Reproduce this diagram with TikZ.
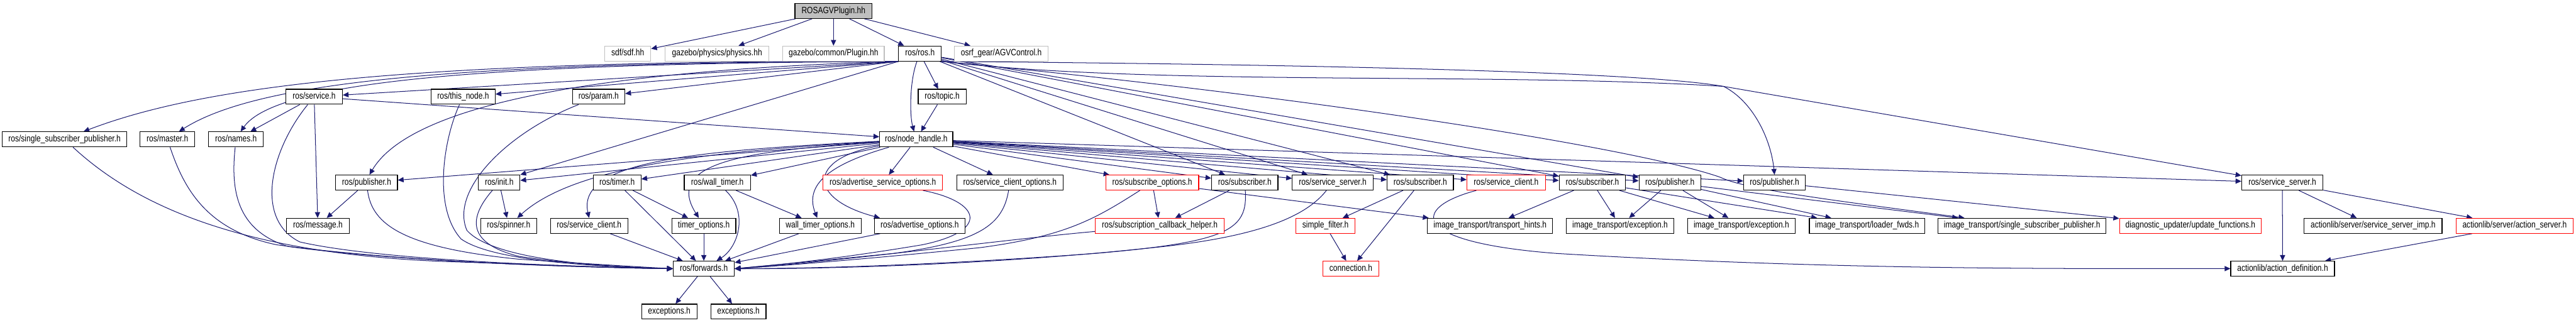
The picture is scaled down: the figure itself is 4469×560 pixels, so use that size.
\documentclass[tikz,border=0pt]{standalone}
\usepackage{fontspec}
\newfontfamily\dfont[FakeStretch=0.82]{Liberation Sans}
\usetikzlibrary{arrows.meta}
\definecolor{edgeblue}{HTML}{191970}
\definecolor{lgray}{HTML}{BFBFBF}
\pgfdeclarelayer{bg}
\pgfdeclarelayer{edges}
\pgfsetlayers{bg,edges,main}
\begin{document}
\begin{tikzpicture}[x=1pt,y=-1pt,
  box/.style={draw=black,line width=1.3pt,fill=white,minimum height=26pt,inner sep=0pt,
    text height=11pt,text depth=3pt,font=\dfont\fontsize{16}{18}\selectfont},
  rbox/.style={box,draw=red},
  gbox/.style={box,draw=lgray},
  rootbox/.style={box,fill=lgray},
  bw/.style={minimum width=#1},
  e/.style={draw=edgeblue,line width=1.1pt,-{Triangle[length=10pt,width=9pt]}}]
\begin{pgfonlayer}{bg}
\fill[white] (0,0) rectangle (4469,560);
\end{pgfonlayer}
\useasboundingbox (0,0) rectangle (4469,560);
% row 0
\node[rootbox,bw=134pt] (root) at (1446,19) {ROSAGVPlugin.hh};
% row 1
\node[gbox,bw=80pt] (sdf) at (1089,93) {sdf/sdf.hh};
\node[gbox,bw=180pt] (physics) at (1244,93) {gazebo/physics/physics.hh};
\node[gbox,bw=176pt] (plugin) at (1446,93) {gazebo/common/Plugin.hh};
\node[box,bw=74pt] (ros) at (1596,93) {ros/ros.h};
\node[gbox,bw=162pt] (agv) at (1737,93) {osrf\_gear/AGVControl.h};
% row 2
\node[box,bw=98pt] (service) at (545,168) {ros/service.h};
\node[box,bw=111pt] (thisnode) at (803.5,168) {ros/this\_node.h};
\node[box,bw=91pt] (param) at (1038.5,168) {ros/param.h};
\node[box,bw=83pt] (topic) at (1634.5,168) {ros/topic.h};
% row 3
\node[box,bw=216pt] (ssp) at (112,242) {ros/single\_subscriber\_publisher.h};
\node[box,bw=95pt] (master) at (290.5,242) {ros/master.h};
\node[box,bw=95pt] (names) at (409.5,242) {ros/names.h};
\node[box,bw=127pt] (nh) at (1589.5,242) {ros/node\_handle.h};
% row 4
\node[box,bw=107pt] (pubA) at (636,317) {ros/publisher.h};
\node[box,bw=72pt] (init) at (866,317) {ros/init.h};
\node[box,bw=83pt] (timer) at (1070.5,317) {ros/timer.h};
\node[box,bw=115pt] (walltimer) at (1244.5,317) {ros/wall\_timer.h};
\node[rbox,bw=207pt] (advsrvopt) at (1531.5,317) {ros/advertise\_service\_options.h};
\node[box,bw=184pt] (srvcliopt) at (1752,317) {ros/service\_client\_options.h};
\node[rbox,bw=161pt] (subopt) at (1999,317) {ros/subscribe\_options.h};
\node[box,bw=115pt] (subA) at (2159.5,317) {ros/subscriber.h};
\node[box,bw=140pt] (srvA) at (2312,317) {ros/service\_server.h};
\node[box,bw=115pt] (subB) at (2464,317) {ros/subscriber.h};
\node[rbox,bw=136pt] (srvcliR) at (2613,317) {ros/service\_client.h};
\node[box,bw=115pt] (subC) at (2762.5,317) {ros/subscriber.h};
\node[box,bw=107pt] (pubB) at (2897,317) {ros/publisher.h};
\node[box,bw=107pt] (pubC) at (3078.5,317) {ros/publisher.h};
\node[box,bw=141pt] (srvB) at (3959.5,317) {ros/service\_server.h};
% row 5
\node[box,bw=109pt] (message) at (551.5,392) {ros/message.h};
\node[box,bw=97pt] (spinner) at (882.5,392) {ros/spinner.h};
\node[box,bw=134pt] (srvcli) at (1022,392) {ros/service\_client.h};
\node[box,bw=111pt] (timeropt) at (1221,392) {timer\_options.h};
\node[box,bw=142pt] (walltimeropt) at (1423,392) {wall\_timer\_options.h};
\node[box,bw=157pt] (advopt) at (1595.5,392) {ros/advertise\_options.h};
\node[rbox,bw=223pt] (subcb) at (2012,392) {ros/subscription\_callback\_helper.h};
\node[rbox,bw=103pt] (simplefilter) at (2299.5,392) {simple\_filter.h};
\node[box,bw=217pt] (hints) at (2585,392) {image\_transport/transport\_hints.h};
\node[box,bw=187pt] (excA) at (2810.5,392) {image\_transport/exception.h};
\node[box,bw=187pt] (excB) at (3021,392) {image\_transport/exception.h};
\node[box,bw=200pt] (loader) at (3239,392) {image\_transport/loader\_fwds.h};
\node[box,bw=291pt] (ssp2) at (3508,392) {image\_transport/single\_subscriber\_publisher.h};
\node[rbox,bw=246pt] (updfn) at (3800,392) {diagnostic\_updater/update\_functions.h};
\node[box,bw=239pt] (srvimp) at (4117,392) {actionlib/server/service\_server\_imp.h};
\node[rbox,bw=203pt] (actsrv) at (4362.5,392) {actionlib/server/action\_server.h};
% row 6
\node[box,bw=106pt] (fwd) at (1221,466.5) {ros/forwards.h};
\node[rbox,bw=97pt] (conn) at (2343.5,466.5) {connection.h};
\node[box,bw=180pt] (actdef) at (3960,466.5) {actionlib/action\_definition.h};
% row 7
\node[box,bw=96pt] (exc1) at (1161,541) {exceptions.h};
\node[box,bw=96pt] (exc2) at (1281,541) {exceptions.h};

\begin{pgfonlayer}{edges}
% root
\draw[e] (root) -- (sdf);
\draw[e] (root) -- (physics);
\draw[e] (root) -- (plugin);
\draw[e] (root) -- (ros);
\draw[e] (root) -- (agv);
% ros.h
\draw[e] (ros.south west) .. controls (700,104) and (350,150) .. ([xshift=33pt]ssp.north);
\draw[e] (ros.south west) .. controls (800,108) and (450,140) .. ([xshift=20pt]master.north);
\draw[e] (ros.south west) .. controls (850,110) and (480,140) .. ([xshift=8pt]names.north);
\draw[e] (ros.south west) -- (service);
\draw[e] (ros.south west) -- (thisnode);
\draw[e] (ros.south west) -- (param);
\draw[e] (ros) -- (topic);
\draw[e] (ros) .. controls (1578,140) and (1578,200) .. (nh);
\draw[e] (ros.south west) .. controls (1100,120) and (720,170) .. ([xshift=5pt]pubA.north);
\draw[e] (ros.south west) -- (init.north east);
\draw[e] (ros) -- (subA);
\draw[e] (ros) -- (srvA);
\draw[e] (ros) -- (subB);
\draw[e] (ros) -- (subC);
\draw[e] (ros) -- (pubB);
\draw[e] (ros.south east) .. controls (2300,112) and (2850,125) .. (2990,150) .. controls (3040,175) and (3072,240) .. (pubC.north);
\draw[e] (ros.south east) .. controls (2000,150) and (2600,125) .. (2990,150) -- (srvB);
\draw[e] (ros.south east) .. controls (2300,170) and (2850,260) .. (2985,308) .. controls (3030,330) and (3200,350) .. (ssp2);
\draw[e] (topic) -- (nh);
% service.h
\draw[e] (service) -- (names);
\draw[e] (service) -- (nh);
\draw[e] (service) -- (message);
\draw[e] (service) .. controls (470,260) and (440,380) .. (520,420) .. controls (650,450) and (950,462) .. (fwd.west);
% others to forwards (left)
\draw[e] (thisnode) .. controls (770,240) and (750,360) .. (800,415) .. controls (850,450) and (1000,462) .. (fwd.west);
\draw[e] (param) .. controls (880,230) and (780,330) .. (810,400) .. controls (850,445) and (1000,462) .. (fwd.west);
\draw[e] (ssp) .. controls (250,370) and (450,445) .. (800,455) .. controls (1000,462) and (1100,466) .. (fwd.west);
\draw[e] (master) .. controls (320,330) and (360,400) .. (480,425) .. controls (700,455) and (1000,464) .. (fwd.west);
\draw[e] (names) .. controls (400,330) and (410,400) .. (500,428) .. controls (700,455) and (1000,464) .. (fwd.west);
\draw[e] (pubA) -- (message);
\draw[e] (pubA) .. controls (645,390) and (700,430) .. (900,450) .. controls (1050,460) and (1120,464) .. (fwd.west);
\draw[e] (init) -- (spinner);
\draw[e] (init) .. controls (820,370) and (800,420) .. (900,445) .. controls (1000,460) and (1100,465) .. (fwd.west);
% node_handle.h
\draw[e] (nh) -- (pubA);
\draw[e] (nh) -- (init);
\draw[e] (nh) .. controls (1250,262) and (1000,285) .. (spinner);
\draw[e] (nh) .. controls (1200,262) and (1000,280) .. (srvcli.north);
\draw[e] (nh) -- (timer);
\draw[e] (nh) .. controls (1300,262) and (1150,280) .. (timeropt);
\draw[e] (nh) -- (walltimer);
\draw[e] (nh) .. controls (1440,285) and (1395,320) .. (walltimeropt);
\draw[e] (nh) -- (advsrvopt);
\draw[e] (nh) .. controls (1400,275) and (1400,345) .. ([xshift=10pt]advopt.north west);
\draw[e] (nh) -- (srvcliopt);
\draw[e] (nh) -- (subopt);
\draw[e] (nh) -- (subA);
\draw[e] (nh) -- (srvA);
\draw[e] (nh) -- (subB);
\draw[e] (nh) -- (srvcliR);
\draw[e] (nh) -- (subC);
\draw[e] (nh) -- (pubB);
\draw[e] (nh) -- (pubC);
\draw[e] (nh) -- (srvB);
% timers etc.
\draw[e] (timer) -- (timeropt);
\draw[e] (timer) -- (fwd);
\draw[e] (walltimer) -- (walltimeropt);
\draw[e] (walltimer) .. controls (1300,370) and (1280,430) .. (fwd);
\draw[e] (timeropt) -- (fwd);
\draw[e] (walltimeropt) -- (fwd);
\draw[e] (srvcli) -- (fwd);
\draw[e] (advopt) -- (fwd);
% others to forwards (right)
\draw[e] (advsrvopt) .. controls (1700,350) and (1720,400) .. (1600,425) .. controls (1450,450) and (1350,460) .. (fwd.east);
\draw[e] (srvcliopt) .. controls (1740,390) and (1700,420) .. (1550,440) .. controls (1400,455) and (1320,462) .. (fwd.east);
\draw[e] (subopt) .. controls (1900,380) and (1850,410) .. (1700,430) .. controls (1500,450) and (1350,462) .. (fwd.east);
\draw[e] (subA) .. controls (2165,400) and (2130,420) .. (1900,440) .. controls (1600,462) and (1400,466) .. (fwd.east);
\draw[e] (subcb) .. controls (1750,415) and (1450,455) .. (fwd.east);
\draw[e] (srvA) .. controls (2270,370) and (2200,410) .. (2000,430) .. controls (1700,462) and (1400,467) .. (fwd.east);
\draw[e] (subopt) -- (subcb);
\draw[e] (subA) -- (subcb);
\draw[e] (subopt) -- (hints);
% message_filters
\draw[e] (subB) -- (simplefilter);
\draw[e] (subB) -- (conn);
\draw[e] (simplefilter) -- (conn);
% service client (red)
\draw[e] (srvcliR) .. controls (2450,360) and (2440,420) .. (2700,440) .. controls (3200,470) and (3600,466) .. (actdef);
% image_transport
\draw[e] (subC) -- (hints);
\draw[e] (subC) -- (excA);
\draw[e] (subC) -- (excB);
\draw[e] (subC) -- (loader);
\draw[e] (pubB) -- (excA);
\draw[e] (pubB) -- (excB);
\draw[e] (pubB) -- (loader);
\draw[e] (pubB) -- (ssp2);
\draw[e] (pubC) -- (updfn);
% actionlib
\draw[e] (srvB) -- (actdef);
\draw[e] (srvB) -- (srvimp);
\draw[e] (srvB) -- (actsrv);
\draw[e] (actsrv) -- (actdef);
% forwards
\draw[e] (fwd) -- (exc1);
\draw[e] (fwd) -- (exc2);
\end{pgfonlayer}
\end{tikzpicture}
\end{document}
